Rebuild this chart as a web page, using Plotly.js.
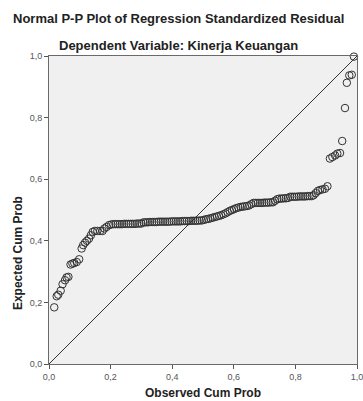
<!DOCTYPE html>
<html>
<head>
<meta charset="utf-8">
<script src="https://cdn.plot.ly/plotly-3.0.1.min.js"></script>
<style>html,body{margin:0;padding:0;background:#fff;}#chart{width:363px;height:401px;}</style>
</head>
<body>
<div id="chart"></div>
<script>
// Observed cumulative probability (x) and expected cumulative probability (y)
var observedCumProb = [
  0.017,0.025,0.030,0.038,0.044,0.052,0.057,0.063,0.070,0.076,
  0.082,0.090,0.098,0.106,0.111,0.117,0.123,0.130,0.136,0.142,
  0.149,0.157,0.166,0.174,0.180,0.187,0.195,
  0.202,0.209,0.216,0.223,0.230,0.237,0.244,0.251,0.258,0.265,
  0.272,0.279,0.286,0.293,0.300,
  0.307,0.314,0.321,0.328,0.335,0.342,0.349,0.356,0.363,0.370,
  0.377,0.384,0.391,0.398,0.405,0.412,0.419,0.426,0.433,0.440,
  0.447,0.454,0.461,0.468,0.475,0.482,0.489,0.496,
  0.503,0.510,0.517,0.524,0.531,0.538,0.545,0.552,0.559,0.566,
  0.573,0.580,0.587,0.594,0.601,0.608,0.615,0.622,0.629,0.636,
  0.643,0.650,0.657,0.664,
  0.671,0.678,0.685,0.692,0.699,0.706,0.713,0.720,0.727,
  0.734,0.741,0.748,0.755,0.762,0.769,0.776,0.783,
  0.790,0.797,0.804,0.811,0.818,0.825,0.832,0.839,0.846,0.853,
  0.859,0.866,0.873,0.880,0.888,0.896,0.904,
  0.912,0.920,0.929,0.936,0.945,0.952,0.961,0.967,0.975,0.983,0.990
];
var expectedCumProb = [
  0.184,0.220,0.225,0.238,0.259,0.272,0.281,0.283,0.323,0.326,
  0.328,0.331,0.340,0.375,0.386,0.394,0.400,0.407,0.418,0.429,
  0.432,0.432,0.432,0.432,0.440,0.445,0.451,
  0.453,0.454,0.454,0.454,0.454,0.454,0.455,0.455,0.455,0.455,
  0.455,0.455,0.456,0.456,0.456,
  0.460,0.460,0.460,0.461,0.461,0.461,0.461,0.462,0.462,0.462,
  0.462,0.462,0.462,0.463,0.463,0.463,0.463,0.463,0.464,0.464,
  0.464,0.464,0.465,0.465,0.465,0.465,0.466,0.466,
  0.468,0.470,0.471,0.473,0.475,0.477,0.479,0.481,0.483,0.486,
  0.489,0.493,0.497,0.500,0.503,0.506,0.508,0.510,0.511,0.512,
  0.513,0.515,0.519,0.523,
  0.523,0.523,0.523,0.523,0.524,0.524,0.524,0.525,0.525,
  0.530,0.535,0.537,0.537,0.538,0.538,0.539,0.543,
  0.543,0.543,0.543,0.544,0.544,0.544,0.544,0.545,0.545,0.545,
  0.548,0.555,0.562,0.565,0.567,0.569,0.577,
  0.667,0.672,0.677,0.683,0.685,0.724,0.831,0.913,0.937,0.939,0.998
];
var diagonalX = [0, 1];
var diagonalY = [0, 1];
var tickValues = [0, 0.2, 0.4, 0.6, 0.8, 1.0];
var tickLabels = ["0,0", "0,2", "0,4", "0,6", "0,8", "1,0"];

var traces = [
  {
    x: diagonalX, y: diagonalY, mode: 'lines', type: 'scatter',
    line: {color: '#333333', width: 1}, hoverinfo: 'skip', cliponaxis: true
  },
  {
    x: observedCumProb, y: expectedCumProb, mode: 'markers', type: 'scatter',
    marker: {symbol: 'circle-open', size: 7.5, color: '#333333', line: {width: 1, color: '#333333'}},
    cliponaxis: false
  }
];

var axisCommon = {
  range: [0, 1], tickvals: tickValues, ticktext: tickLabels,
  ticks: 'outside', ticklen: 4, tickcolor: '#555', tickwidth: 1,
  showline: true, linecolor: '#6a6a6a', linewidth: 1, mirror: true,
  showgrid: false, zeroline: false, ticklabeloverflow: 'allow',
  tickfont: {family: 'Liberation Sans, Arial, sans-serif', size: 9, color: '#555'},
  fixedrange: true
};

var layout = {
  width: 363, height: 401,
  margin: {l: 49, r: 6, t: 56, b: 37},
  paper_bgcolor: '#ffffff', plot_bgcolor: '#f0f0f0',
  showlegend: false,
  xaxis: Object.assign({}, axisCommon, {title: {text: ''}}),
  yaxis: Object.assign({}, axisCommon, {title: {text: ''}}),
  annotations: [
    {text: '<b>Normal P-P Plot of Regression Standardized Residual</b>', xref: 'paper', yref: 'paper',
     x: 0.419, y: 1, yshift: 38, xanchor: 'center', yanchor: 'middle', showarrow: false,
     font: {family: 'Liberation Sans, Arial, sans-serif', size: 13, color: '#222'}},
    {text: '<b>Dependent Variable: Kinerja Keuangan</b>', xref: 'paper', yref: 'paper',
     x: 0.419, y: 1, yshift: 11, xanchor: 'center', yanchor: 'middle', showarrow: false,
     font: {family: 'Liberation Sans, Arial, sans-serif', size: 13, color: '#222'}},
    {text: '<b>Observed Cum Prob</b>', xref: 'paper', yref: 'paper',
     x: 0.5, y: 0, yshift: -29, xanchor: 'center', yanchor: 'middle', showarrow: false,
     font: {family: 'Liberation Sans, Arial, sans-serif', size: 12, color: '#222'}},
    {text: '<b>Expected Cum Prob</b>', xref: 'paper', yref: 'paper',
     x: 0, xshift: -31, y: 0.36, xanchor: 'center', yanchor: 'middle', showarrow: false, textangle: -90,
     font: {family: 'Liberation Sans, Arial, sans-serif', size: 12, color: '#222'}}
  ]
};

Plotly.newPlot('chart', traces, layout, {displayModeBar: false, staticPlot: true});
</script>
</body>
</html>
